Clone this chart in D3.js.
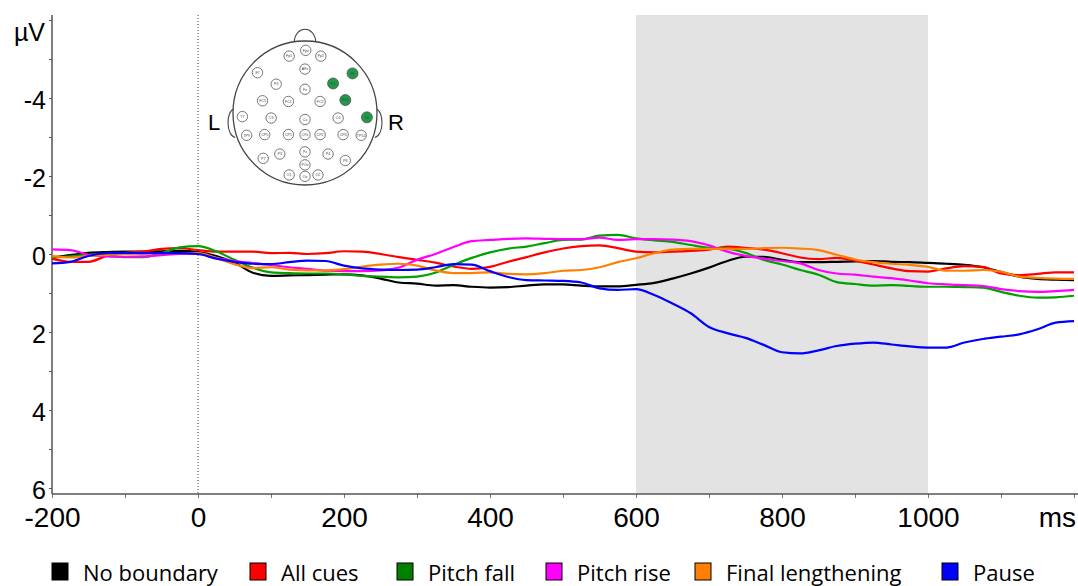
<html>
<script src="https://d3js.org/d3.v7.min.js"></script>
<style>
    body { margin: 0; background: #fff; }
    svg { display: block; }
    .tick text { fill: #000; }
</style>
<body>
<svg id="chart"></svg>
<script>
    // time points in ms, 25 ms steps
    var times = d3.range(-200, 1201, 25);

    var seriesNames = ["No boundary", "All cues", "Pitch fall", "Pitch rise", "Final lengthening", "Pause"];
    var seriesColors = ["#000000", "#ff0000", "#00a000", "#ff00ff", "#ff8000", "#0000ff"];
    var legendColors = ["#000000", "#ff0000", "#008000", "#ff00ff", "#ff8000", "#0000ff"];

    // amplitudes in microvolts (negative plotted up)
    var noBoundary = [0.1, 0.03, -0.03, -0.05, -0.06, -0.06, -0.07, -0.08, -0.05, 0.05, 0.22, 0.48, 0.56, 0.55, 0.54, 0.53, 0.52, 0.55, 0.63, 0.73, 0.76, 0.81, 0.8, 0.84, 0.86, 0.85, 0.81, 0.78, 0.78, 0.81, 0.83, 0.83, 0.79, 0.74, 0.63, 0.5, 0.35, 0.18, 0.07, 0.07, 0.15, 0.21, 0.21, 0.2, 0.19, 0.18, 0.2, 0.21, 0.23, 0.25, 0.28, 0.34, 0.46, 0.58, 0.64, 0.66, 0.67];
    var allCues = [0.12, 0.2, 0.2, 0.05, -0.03, -0.06, -0.13, -0.15, -0.1, -0.06, -0.06, -0.06, -0.02, -0.03, 0.0, -0.02, -0.07, -0.06, 0.0, 0.08, 0.15, 0.22, 0.32, 0.38, 0.33, 0.2, 0.08, -0.04, -0.14, -0.2, -0.22, -0.15, -0.06, -0.04, -0.06, -0.08, -0.11, -0.19, -0.16, -0.11, -0.02, 0.09, 0.13, 0.1, 0.17, 0.27, 0.37, 0.44, 0.45, 0.37, 0.31, 0.33, 0.5, 0.54, 0.51, 0.47, 0.47];
    var pitchFall = [0.08, 0.06, 0.02, 0.05, 0.08, 0.08, -0.02, -0.17, -0.2, -0.07, 0.15, 0.35, 0.47, 0.49, 0.5, 0.5, 0.52, 0.56, 0.58, 0.6, 0.58, 0.48, 0.28, 0.1, -0.04, -0.14, -0.19, -0.28, -0.36, -0.37, -0.47, -0.49, -0.4, -0.35, -0.31, -0.23, -0.16, -0.14, -0.03, 0.15, 0.27, 0.41, 0.53, 0.72, 0.77, 0.81, 0.8, 0.82, 0.84, 0.84, 0.85, 0.86, 0.97, 1.07, 1.12, 1.11, 1.07];
    var pitchRise = [-0.12, -0.1, 0.02, 0.06, 0.07, 0.06, 0.03, 0.0, 0.0, 0.1, 0.18, 0.23, 0.28, 0.34, 0.38, 0.43, 0.44, 0.44, 0.42, 0.35, 0.15, 0.0, -0.18, -0.33, -0.36, -0.39, -0.4, -0.39, -0.38, -0.38, -0.42, -0.36, -0.38, -0.38, -0.37, -0.33, -0.22, -0.06, 0.05, 0.12, 0.18, 0.24, 0.41, 0.5, 0.53, 0.58, 0.62, 0.68, 0.75, 0.78, 0.8, 0.82, 0.9, 0.95, 0.97, 0.95, 0.92];
    var finalLengthening = [0.05, 0.09, 0.05, 0.02, 0.0, -0.01, -0.02, -0.02, -0.02, 0.1, 0.26, 0.36, 0.34, 0.4, 0.42, 0.42, 0.39, 0.32, 0.27, 0.25, 0.3, 0.42, 0.49, 0.49, 0.47, 0.51, 0.52, 0.49, 0.43, 0.41, 0.34, 0.21, 0.11, -0.02, -0.11, -0.13, -0.13, -0.13, -0.13, -0.15, -0.16, -0.14, -0.1, 0.02, 0.14, 0.21, 0.25, 0.28, 0.33, 0.43, 0.43, 0.41, 0.45, 0.58, 0.61, 0.63, 0.64];
    var pause = [0.24, 0.2, 0.05, -0.02, -0.03, -0.02, -0.02, -0.02, 0.0, 0.12, 0.2, 0.25, 0.26, 0.21, 0.17, 0.18, 0.3, 0.37, 0.4, 0.41, 0.4, 0.34, 0.26, 0.27, 0.44, 0.59, 0.67, 0.68, 0.69, 0.73, 0.88, 0.92, 0.9, 1.05, 1.27, 1.52, 1.87, 2.03, 2.15, 2.33, 2.52, 2.55, 2.47, 2.36, 2.3, 2.27, 2.32, 2.37, 2.4, 2.4, 2.27, 2.18, 2.12, 2.06, 1.93, 1.76, 1.72];

    var seriesValues = [noBoundary, allCues, pitchFall, pitchRise, finalLengthening, pause];

    var xTicks = [-200, 0, 200, 400, 600, 800, 1000];
    var yTicks = [-4, -2, 0, 2, 4, 6];
    var window_ = [600, 1000];

    // electrodes: label, x, y in head radius units
    var electrodes = [
        ["Fpz", 0.01, -0.87], ["Fp1", -0.22, -0.79], ["Fp2", 0.22, -0.79], ["AFz", 0, -0.61],
        ["F7", -0.66, -0.56], ["F8", 0.66, -0.55], ["F3", -0.40, -0.40], ["F4", 0.39, -0.41], ["Fz", 0, -0.33],
        ["FC5", -0.59, -0.17], ["FC1", -0.23, -0.16], ["FC2", 0.21, -0.16], ["FC6", 0.56, -0.18],
        ["T7", -0.87, 0.05], ["C3", -0.47, 0.07], ["Cz", 0, 0.09], ["C4", 0.46, 0.07], ["T8", 0.86, 0.06],
        ["TP9", -0.81, 0.31], ["CP5", -0.56, 0.30], ["CP1", -0.23, 0.30], ["CPz", 0, 0.30], ["CP2", 0.21, 0.30], ["CP6", 0.53, 0.30], ["TP10", 0.78, 0.31],
        ["P7", -0.58, 0.63], ["P3", -0.35, 0.57], ["Pz", 0, 0.54], ["P4", 0.32, 0.57], ["P8", 0.56, 0.66],
        ["POz", 0, 0.72], ["O1", -0.22, 0.86], ["Oz", 0, 0.88], ["O2", 0.18, 0.86]
    ];
    var activeElectrodes = ["F8", "F4", "FC6", "T8"];

    var width = 1078, height = 586;
    var plot = { left: 52, right: 1074, top: 15, zeroTop: 20, bottom: 488, axisY: 494, axisEnd: 1078 };

    var svg = d3.select("#chart")
        .attr("width", width)
        .attr("height", height);

    var x = d3.scaleLinear().domain([-200, 1200]).range([plot.left, plot.right]);
    var y = d3.scaleLinear().domain([-6, 6]).range([plot.zeroTop, plot.bottom]);

    // shaded analysis window
    svg.append("rect")
        .attr("x", x(window_[0]))
        .attr("y", plot.top)
        .attr("width", x(window_[1]) - x(window_[0]))
        .attr("height", plot.axisY - plot.top)
        .attr("fill", "#e3e3e3");

    // stimulus onset
    svg.append("line")
        .attr("x1", x(0)).attr("x2", x(0))
        .attr("y1", plot.top).attr("y2", plot.axisY)
        .attr("stroke", "#444")
        .attr("stroke-width", 1)
        .attr("stroke-dasharray", "1,2");

    // y axis
    var yAxis = d3.axisLeft(y)
        .tickValues(d3.range(-6, 7))
        .tickSize(3)
        .tickPadding(3)
        .tickFormat(function (d) { return yTicks.indexOf(d) >= 0 ? d : ""; });
    var gy = svg.append("g")
        .attr("transform", "translate(" + plot.left + ",0)")
        .call(yAxis);
    gy.select(".domain").remove();
    gy.selectAll("line").attr("stroke", "#555");
    gy.selectAll("text")
        .attr("font-family", "Liberation Sans, Arial, sans-serif")
        .attr("font-size", 25)
        .attr("dy", "0.42em");
    svg.append("line")
        .attr("x1", plot.left).attr("x2", plot.left)
        .attr("y1", plot.top).attr("y2", plot.axisY)
        .attr("stroke", "#555").attr("stroke-width", 1.5);

    svg.append("text")
        .attr("x", 45).attr("y", 41)
        .attr("text-anchor", "end")
        .attr("font-family", "Liberation Sans, Arial, sans-serif")
        .attr("font-size", 25)
        .text("µV");

    // x axis
    var xAxis = d3.axisBottom(x)
        .tickValues(d3.range(-200, 1201, 100))
        .tickSize(4)
        .tickPadding(9)
        .tickFormat(function (d) { return xTicks.indexOf(d) >= 0 ? d : ""; });
    var gx = svg.append("g")
        .attr("transform", "translate(0," + plot.axisY + ")")
        .call(xAxis);
    gx.select(".domain").remove();
    gx.selectAll("line").attr("stroke", "#777");
    gx.selectAll("text")
        .attr("font-family", "Liberation Sans, Arial, sans-serif")
        .attr("font-size", 28);
    svg.append("line")
        .attr("x1", plot.left).attr("x2", plot.axisEnd)
        .attr("y1", plot.axisY).attr("y2", plot.axisY)
        .attr("stroke", "#555").attr("stroke-width", 1.5);

    svg.append("text")
        .attr("x", 1076).attr("y", 527)
        .attr("text-anchor", "end")
        .attr("font-family", "Liberation Sans, Arial, sans-serif")
        .attr("font-size", 28)
        .text("ms");

    // ERP curves
    var line = d3.line()
        .x(function (d, i) { return x(times[i]); })
        .y(function (d) { return y(d); })
        .curve(d3.curveMonotoneX);

    svg.append("g")
        .selectAll("path")
        .data(seriesValues)
        .enter()
        .append("path")
        .attr("d", line)
        .attr("fill", "none")
        .attr("stroke", function (d, i) { return seriesColors[i]; })
        .attr("stroke-width", 2.2);

    // legend
    var legendX = [52, 250, 397, 546, 695, 942];
    var legend = svg.append("g")
        .selectAll("g")
        .data(seriesNames)
        .enter()
        .append("g")
        .attr("transform", function (d, i) { return "translate(" + legendX[i] + ",563)"; });
    legend.append("rect")
        .attr("width", 16).attr("height", 17)
        .attr("fill", function (d, i) { return legendColors[i]; })
        .attr("stroke", "#000")
        .attr("stroke-width", 1);
    legend.append("text")
        .attr("x", 31).attr("y", 18)
        .attr("font-family", "Open Sans, sans-serif")
        .attr("font-size", 22)
        .text(function (d) { return d; });

    // head inset
    var head = { cx: 305, cy: 113, r: 72 };
    var hx = d3.scaleLinear().domain([-1, 1]).range([head.cx - head.r, head.cx + head.r]);
    var hy = d3.scaleLinear().domain([-1, 1]).range([head.cy - head.r, head.cy + head.r]);
    var inset = svg.append("g");

    inset.append("path")
        .attr("d", "M" + hx(-0.15) + "," + hy(-0.99) + " C" + hx(-0.13) + "," + hy(-1.22) + " " + hx(0.13) + "," + hy(-1.22) + " " + hx(0.15) + "," + hy(-0.99))
        .attr("fill", "white").attr("stroke", "#444").attr("stroke-width", 1.1);
    [-1, 1].forEach(function (s) {
        inset.append("path")
            .attr("d", "M" + hx(s * 0.985) + "," + hy(-0.06) + " C" + hx(s * 1.1) + "," + hy(-0.02) + " " + hx(s * 1.1) + "," + hy(0.3) + " " + hx(s * 0.97) + "," + hy(0.34))
            .attr("fill", "white").attr("stroke", "#444").attr("stroke-width", 1.1);
    });
    inset.append("circle")
        .attr("cx", head.cx).attr("cy", head.cy).attr("r", head.r)
        .attr("fill", "white").attr("stroke", "#444").attr("stroke-width", 1.3);

    var el = inset.selectAll(".el")
        .data(electrodes)
        .enter()
        .append("g")
        .attr("class", "el")
        .attr("transform", function (d) { return "translate(" + hx(d[1]) + "," + hy(d[2]) + ")"; });
    el.append("circle")
        .attr("r", function (d) { return activeElectrodes.indexOf(d[0]) >= 0 ? 5.5 : 5.2; })
        .attr("fill", function (d) { return activeElectrodes.indexOf(d[0]) >= 0 ? "#1e9a48" : "white"; })
        .attr("stroke", "#555")
        .attr("stroke-width", 0.8);
    el.append("text")
        .attr("text-anchor", "middle")
        .attr("dy", "0.35em")
        .attr("font-family", "Liberation Sans, Arial, sans-serif")
        .attr("font-size", 3.6)
        .attr("fill", "#444")
        .text(function (d) { return d[0]; });

    inset.append("text")
        .attr("x", 214).attr("y", 130)
        .attr("text-anchor", "middle")
        .attr("font-family", "Liberation Sans, Arial, sans-serif")
        .attr("font-size", 22)
        .text("L");
    inset.append("text")
        .attr("x", 396).attr("y", 130)
        .attr("text-anchor", "middle")
        .attr("font-family", "Liberation Sans, Arial, sans-serif")
        .attr("font-size", 22)
        .text("R");
</script>
</body>
</html>
